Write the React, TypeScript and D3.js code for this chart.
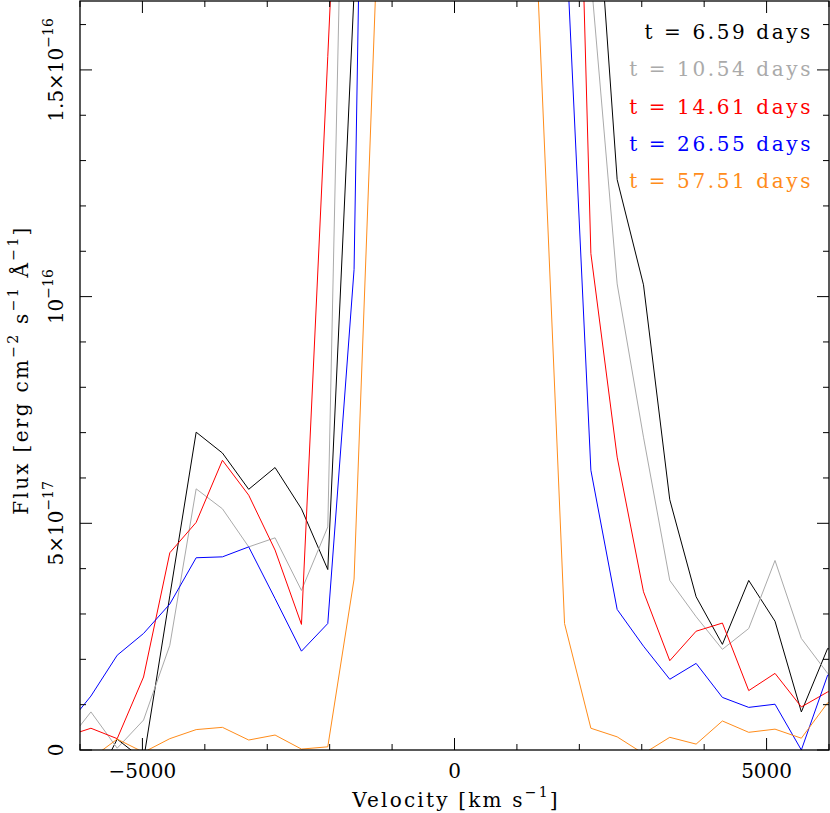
import React from 'react';
import * as d3 from 'd3';

// velocity grid of the spectra (km/s)
const velocity = [
  -6247, -5825, -5404, -4982, -4561, -4139, -3718, -3297, -2875, -2452, -2030,
  -1609, -1187, -766, -344, 77, 499, 920, 1342, 1763, 2185, 2606, 3028, 3449,
  3871, 4292, 4714, 5135, 5557, 5978, 6400,
];

// flux in units of 1e-17 erg cm^-2 s^-1 A^-1
const flux659 = [
  -1.5, -0.9, 0.24, -0.22, 3.4, 7.01, 6.55, 5.75, 6.23, 5.32, 3.98,
  16.7, 30, 44, 54, 58, 53, 43, 33, 26, 20.8, 12.58, 10.26, 5.52,
  3.38, 2.33, 3.74, 2.84, 0.84, 2.24, 2.0,
];
const flux1054 = [
  0.1, 0.84, 0.04, 0.66, 2.31, 5.76, 5.32, 4.48, 4.68, 3.52, 4.92,
  32, 45, 55, 62, 64, 58, 48, 36, 26, 17.05, 10.28, 6.9, 3.74,
  2.94, 2.22, 2.68, 4.18, 2.46, 1.69, 1.4,
];
const flux1461 = [
  0.29, 0.48, 0.25, 1.61, 4.35, 5.02, 6.39, 5.62, 4.41, 2.77, 15.3,
  28, 40, 50, 56, 58, 52, 44, 38, 32.3, 10.95, 6.46, 3.49, 1.97,
  2.62, 2.8, 1.31, 1.69, 0.95, 1.28, 1.4,
];
const flux2655 = [
  0.47, 1.19, 2.09, 2.57, 3.22, 4.24, 4.26, 4.48, 3.34, 2.18, 2.79,
  10.6, 46, 50, 54, 55, 49, 38, 27, 18.6, 6.17, 3.1, 2.29, 1.56,
  1.91, 1.16, 0.94, 1.01, 0.0, 1.65, 1.8,
];
const flux5751 = [
  -0.5, -0.19, 0.24, -0.05, 0.25, 0.45, 0.5, 0.22, 0.33, 0.02, 0.07,
  3.77, 19.6, 30, 36, 38, 34, 26, 16.6, 2.79, 0.48, 0.29, -0.08, 0.28,
  0.13, 0.64, 0.39, 0.46, 0.26, 1.04, 1.2,
];

const epochLabels = [
  't = 6.59 days',
  't = 10.54 days',
  't = 14.61 days',
  't = 26.55 days',
  't = 57.51 days',
];
const lineColors = ['#000000', '#aaaaaa', '#ff0000', '#0000ff', '#ff8c1a'];
const fluxSeries = [flux659, flux1054, flux1461, flux2655, flux5751];

const xTickLabels = ['\u22125000', '0', '5000'];
const xLabelValues = [-5000, 0, 5000];
const yLabelValues = [0, 5, 10, 15];
const yLabelMantissa = ['0', '5\u00d710', '10', '1.5\u00d710'];
const yLabelExponent = ['', '\u221217', '\u221216', '\u221216'];

const W = 830;
const H = 813;
const left = 80;
const right = 829;
const top = 1;
const bottom = 750;
const font = '"DejaVu Serif", serif';

const App: React.FC = () => {
  const x = d3.scaleLinear().domain([-6000, 6000]).range([left, right]);
  const y = d3.scaleLinear().domain([0, 16.52]).range([bottom, top]);

  const line = d3
    .line<number>()
    .x((_, i) => x(velocity[i]))
    .y((d) => y(d));

  const xTicks = d3.range(-6000, 6001, 1000);
  const yTicks = d3.range(0, 17, 1);

  return (
    <svg
      width={W}
      height={H}
      style={{ position: 'absolute', left: 0, top: 0, background: '#fff' }}
      fontFamily={font}
    >
      <defs>
        <clipPath id="plot">
          <rect x={left} y={top} width={right - left} height={bottom - top} />
        </clipPath>
      </defs>

      {/* spectra */}
      <g clipPath="url(#plot)" fill="none" strokeWidth={1}>
        {fluxSeries.map((s, i) => (
          <path key={i} d={line(s) || ''} stroke={lineColors[i]} strokeLinejoin="miter" />
        ))}
      </g>

      {/* frame */}
      <rect x={left} y={top} width={right - left} height={bottom - top} fill="none" stroke="#000" strokeWidth={1.3} />

      {/* x ticks, bottom and top */}
      {xTicks.map((v) => {
        const len = v % 5000 === 0 ? 12 : 6;
        return (
          <g key={v} stroke="#000" strokeWidth={1}>
            <line x1={x(v)} x2={x(v)} y1={bottom} y2={bottom - len} />
            <line x1={x(v)} x2={x(v)} y1={top} y2={top + len} />
          </g>
        );
      })}
      {/* y ticks, left and right */}
      {yTicks.map((v) => {
        const len = v % 5 === 0 ? 12 : 6;
        return (
          <g key={v} stroke="#000" strokeWidth={1}>
            <line x1={left} x2={left + len} y1={y(v)} y2={y(v)} />
            <line x1={right} x2={right - len} y1={y(v)} y2={y(v)} />
          </g>
        );
      })}

      {/* x tick labels */}
      {xLabelValues.map((v, i) => (
        <text key={v} x={x(v)} y={778} textAnchor="middle" fontSize={20} fill="#000">
          {xTickLabels[i]}
        </text>
      ))}

      {/* y tick labels */}
      {yLabelValues.map((v, i) => (
        <text
          key={v}
          transform={`translate(63,${y(v)}) rotate(-90)`}
          textAnchor="middle"
          fontSize={20}
          fill="#000"
        >
          {yLabelMantissa[i]}
          {yLabelExponent[i] && (
            <tspan fontSize={14} dy={-10}>
              {yLabelExponent[i]}
            </tspan>
          )}
        </text>
      ))}

      {/* axis titles */}
      <text x={456} y={807} textAnchor="middle" fontSize={20} letterSpacing={2.2} fill="#000">
        Velocity [km s
        <tspan fontSize={14} dy={-10}>
          {'\u22121'}
        </tspan>
        <tspan dy={10}>]</tspan>
      </text>
      <text
        transform="translate(28,370) rotate(-90)"
        textAnchor="middle"
        fontSize={20}
        letterSpacing={2.3}
        fill="#000"
      >
        Flux [erg cm
        <tspan fontSize={14} dy={-10}>
          {'\u22122'}
        </tspan>
        <tspan dy={10}> s</tspan>
        <tspan fontSize={14} dy={-10}>
          {'\u22121'}
        </tspan>
        <tspan dy={10}> {'\u00c5'}</tspan>
        <tspan fontSize={14} dy={-10}>
          {'\u22121'}
        </tspan>
        <tspan dy={10}>]</tspan>
      </text>

      {/* legend */}
      {epochLabels.map((t, i) => (
        <text
          key={t}
          x={813}
          y={39 + i * 37.3}
          textAnchor="end"
          fontSize={20}
          letterSpacing={2.6}
          fill={lineColors[i]}
          style={{ whiteSpace: 'pre' }}
        >
          {t}
        </text>
      ))}
    </svg>
  );
};

export default App;
